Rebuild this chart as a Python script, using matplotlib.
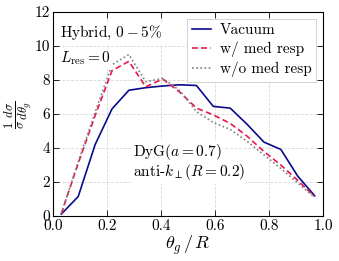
import matplotlib
matplotlib.use("Agg")
import matplotlib.pyplot as plt
import numpy as np

plt.rcParams['font.family'] = 'serif'
plt.rcParams['font.serif'] = ['cmr10']
plt.rcParams['mathtext.fontset'] = 'cm'
plt.rcParams['axes.formatter.use_mathtext'] = True
plt.rcParams['axes.unicode_minus'] = False

bin_edges = np.linspace(0, 1, 17)
x = 0.5 * (bin_edges[:-1] + bin_edges[1:])

vacuum = [0.12, 1.15, 4.2, 6.3, 7.4, 7.55, 7.65, 7.72, 7.68, 6.45, 6.35, 5.4, 4.35, 3.92, 2.35, 1.2]
med_resp = [0.15, 3.1, 5.9, 8.55, 9.1, 7.6, 8.06, 7.3, 6.35, 5.95, 5.45, 4.7, 3.8, 3.0, 2.1, 1.15]
no_med_resp = [0.15, 3.2, 6.1, 8.9, 9.5, 7.9, 8.1, 7.4, 6.15, 5.5, 5.1, 4.4, 3.6, 2.8, 1.95, 1.1]

xticks = [0.0, 0.2, 0.4, 0.6, 0.8, 1.0]
yticks = [0, 2, 4, 6, 8, 10, 12]

fig = plt.figure(figsize=(3.39, 2.61), dpi=100)
ax = fig.add_axes([0.156, 0.172, 0.797, 0.782])

ax.plot(x, vacuum, color='#0a0a8c', lw=1.2, ls='-', label='Vacuum')
ax.plot(x, med_resp, color='#e8174a', lw=1.2, ls=(0, (3.5, 2)), label='w/ med resp')
ax.plot(x, no_med_resp, color='gray', lw=1.2, ls=(0, (1, 1.5)), label='w/o med resp')

ax.set_xlim(0, 1)
ax.set_ylim(0, 12)
ax.set_xticks(xticks)
ax.set_yticks(yticks)
ax.set_xticklabels([f'{t:.1f}' for t in xticks])
ax.set_yticklabels([str(t) for t in yticks])
ax.tick_params(direction='in', top=True, right=True, labelsize=11, length=4, width=0.6, pad=2)
ax.grid(True, ls='--', color='#d8d8d8', lw=0.6)
for s in ax.spines.values():
    s.set_linewidth(0.8)

ax.set_xlabel(r'$\theta_g\,/\,R$', fontsize=13, labelpad=1)
ax.set_ylabel(r'$\frac{1}{\sigma}\frac{d\sigma}{d\theta_g}$', fontsize=13, labelpad=0)

bbox = dict(facecolor='white', edgecolor='none', pad=1)
ax.text(0.025, 0.94, r'Hybrid$,\,0-5\%$', transform=ax.transAxes, fontsize=11, va='top', ha='left', bbox=bbox)
ax.text(0.025, 0.815, r'$L_{\rm res}=0$', transform=ax.transAxes, fontsize=11, va='top', ha='left', bbox=bbox)
ax.text(0.295, 0.315, r'DyG$(a=0.7)$', transform=ax.transAxes, fontsize=11, va='center', ha='left', bbox=bbox)
ax.text(0.295, 0.215, r'anti-$k_\perp(R=0.2)$', transform=ax.transAxes, fontsize=11, va='center', ha='left', bbox=bbox)

leg = ax.legend(loc='upper right', fontsize=11, frameon=True, fancybox=False,
                edgecolor='#cccccc', framealpha=1, handlelength=1.25,
                borderaxespad=0.45, labelspacing=0.3, borderpad=0.3, handletextpad=0.6)
leg.get_frame().set_linewidth(0.6)

fig.savefig('out.png', dpi=100)
